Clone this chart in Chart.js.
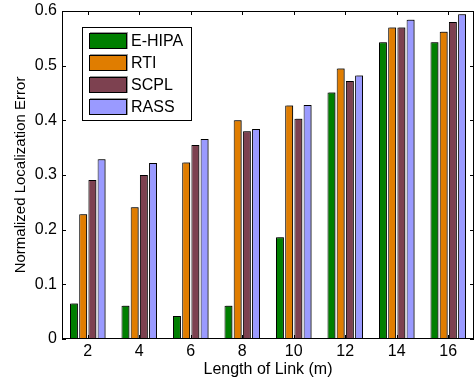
<!DOCTYPE html>
<html>
<head>
<meta charset="utf-8">
<script src="https://cdn.jsdelivr.net/npm/chart.js@4/dist/chart.umd.min.js"></script>
<style>
  html, body { margin: 0; padding: 0; background: #fff; }
  #wrap { width: 476px; height: 379px; }
</style>
</head>
<body>
<div id="wrap"><canvas id="myChart" width="476" height="379"></canvas></div>
<script>
// data
const linkLengths = ['2', '4', '6', '8', '10', '12', '14', '16'];
const ehipa = [0.065, 0.061, 0.042, 0.061, 0.186, 0.451, 0.543, 0.543];
const rti   = [0.228, 0.241, 0.323, 0.400, 0.427, 0.495, 0.570, 0.562];
const scpl  = [0.291, 0.300, 0.355, 0.380, 0.403, 0.472, 0.570, 0.580];
const rass  = [0.329, 0.322, 0.366, 0.384, 0.428, 0.482, 0.584, 0.594];
const yTicks = [0, 0.1, 0.2, 0.3, 0.4, 0.5, 0.6];

const seriesNames = ['E-HIPA', 'RTI', 'SCPL', 'RASS'];
const seriesColors = ['#007f00', '#e07d00', '#7d4150', '#9a9aff'];

const fontFamily = '"Liberation Sans", Arial, Helvetica, sans-serif';

// matlab style box, inward ticks, legend in the corner
const matlabFrame = {
    id: 'matlabFrame',
    beforeDatasetsDraw(chart) {
        const ctx = chart.ctx;
        ctx.save();
        ctx.shadowColor = 'rgba(0,0,0,0.45)';
        ctx.shadowOffsetX = 1.5;
        ctx.shadowOffsetY = -1;
        ctx.shadowBlur = 0;
    },
    afterDatasetsDraw(chart) {
        chart.ctx.restore();
    },
    afterDraw(chart) {
        const ctx = chart.ctx;
        const a = chart.chartArea;
        const xs = chart.scales.x;
        const ys = chart.scales.y;
        ctx.save();
        ctx.strokeStyle = '#000';
        ctx.lineWidth = 1;
        ctx.strokeRect(a.left + 0.5, a.top + 0.5, a.right - a.left - 1, a.bottom - a.top - 1);
        ctx.beginPath();
        const tl = 4;
        linkLengths.forEach((_, i) => {
            const x = Math.round(xs.getPixelForValue(i)) + 0.5;
            ctx.moveTo(x, a.bottom); ctx.lineTo(x, a.bottom - tl);
            ctx.moveTo(x, a.top); ctx.lineTo(x, a.top + tl);
        });
        yTicks.forEach(v => {
            const y = Math.round(ys.getPixelForValue(v)) + 0.5;
            ctx.moveTo(a.left, y); ctx.lineTo(a.left + tl, y);
            ctx.moveTo(a.right, y); ctx.lineTo(a.right - tl, y);
        });
        ctx.stroke();

        // legend box
        const lx = a.left + 20, ly = a.top + 16, lw = 109, lh = 93;
        ctx.fillStyle = '#fff';
        ctx.fillRect(lx, ly, lw, lh);
        ctx.strokeRect(lx + 0.5, ly + 0.5, lw, lh);
        ctx.font = '16px ' + fontFamily;
        ctx.textBaseline = 'middle';
        seriesNames.forEach((name, i) => {
            const sy = ly + 6 + i * 22;
            ctx.fillStyle = 'rgba(0,0,0,0.4)';
            ctx.fillRect(lx + 8, sy - 1, 38, 17);
            ctx.fillStyle = seriesColors[i];
            ctx.fillRect(lx + 7, sy, 37, 16);
            ctx.strokeStyle = '#000';
            ctx.strokeRect(lx + 7.5, sy + 0.5, 37, 15);
            ctx.fillStyle = '#000';
            ctx.fillText(name, lx + 49, sy + 9);
        });
        ctx.restore();
    }
};

const ctx = document.getElementById('myChart').getContext('2d');
new Chart(ctx, {
    type: 'bar',
    data: {
        labels: linkLengths,
        datasets: [ehipa, rti, scpl, rass].map((d, i) => ({
            label: seriesNames[i],
            data: d,
            backgroundColor: seriesColors[i],
            borderColor: '#000',
            borderWidth: 1,
            categoryPercentage: 0.715,
            barPercentage: 0.86
        }))
    },
    options: {
        responsive: false,
        animation: false,
        layout: { padding: { top: 11, right: 2, left: 12, bottom: 0 } },
        plugins: { legend: { display: false }, tooltip: { enabled: false } },
        scales: {
            x: {
                afterFit(scale) { scale.height = 40; scale.paddingLeft = 0; scale.paddingRight = 0; },
                grid: { display: false, drawTicks: false },
                border: { display: false },
                ticks: { color: '#000', font: { family: fontFamily, size: 16 }, padding: 3 },
                title: { display: true, text: 'Length of Link (m)', color: '#000',
                         font: { family: fontFamily, size: 16 }, padding: { top: 0, bottom: 0 } }
            },
            y: {
                min: 0, max: 0.6,
                afterBuildTicks(scale) { scale.ticks = yTicks.map(v => ({ value: v })); },
                afterFit(scale) { scale.width = 50; scale.paddingTop = 0; scale.paddingBottom = 0; },
                grid: { display: false, drawTicks: false },
                border: { display: false },
                ticks: { color: '#000', font: { family: fontFamily, size: 16 }, padding: 5,
                         callback: v => String(v) },
                title: { display: true, text: 'Normalized Localization Error', color: '#000',
                         font: { family: fontFamily, size: 15 }, padding: { top: 0, bottom: 3 } }
            }
        }
    },
    plugins: [matlabFrame]
});
</script>
</body>
</html>
